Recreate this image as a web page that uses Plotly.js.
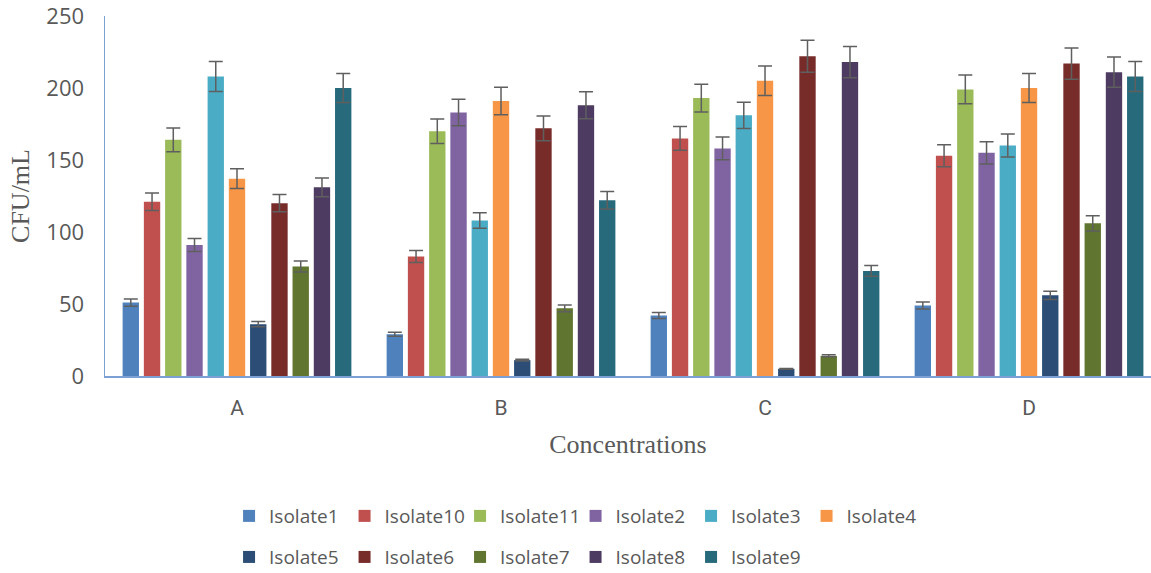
<!DOCTYPE html>
<html>
<head>
<meta charset="utf-8">
<script src="https://cdn.plot.ly/plotly-3.0.1.min.js"></script>
<style>html,body{margin:0;padding:0;background:#fff;}#chart{width:1151px;height:573px;}</style>
</head>
<body>
<div id="chart"></div>
<script>
var categories = ["A", "B", "C", "D"];
var seriesNames = ["Isolate1", "Isolate10", "Isolate11", "Isolate2", "Isolate3", "Isolate4",
                   "Isolate5", "Isolate6", "Isolate7", "Isolate8", "Isolate9"];
var isolate1  = [51, 29, 42, 49];
var isolate10 = [121, 83, 165, 153];
var isolate11 = [164, 170, 193, 199];
var isolate2  = [91, 183, 158, 155];
var isolate3  = [208, 108, 181, 160];
var isolate4  = [137, 191, 205, 200];
var isolate5  = [36, 11, 5, 56];
var isolate6  = [120, 172, 222, 217];
var isolate7  = [76, 47, 14, 106];
var isolate8  = [131, 188, 218, 211];
var isolate9  = [200, 122, 73, 208];
var errorPercent = 5;
var yTicks = [0, 50, 100, 150, 200, 250];

var seriesValues = [isolate1, isolate10, isolate11, isolate2, isolate3, isolate4,
                    isolate5, isolate6, isolate7, isolate8, isolate9];
var colors = ["#4F81BD", "#C0504D", "#9BBB59", "#8064A2", "#4BACC6", "#F79646",
              "#2C4D75", "#772C2A", "#5F7530", "#4D3B62", "#276A7C"];

var traces = seriesNames.map(function (name, i) {
  return {
    type: "bar",
    name: name,
    x: categories,
    y: seriesValues[i],
    marker: { color: colors[i], line: { width: 0 } },
    error_y: { type: "percent", value: errorPercent, visible: true,
               color: "#5f5f5f", thickness: 1.5, width: 7 },
    legend: i < 6 ? "legend" : "legend2"
  };
});

var legendFont = { family: "Open Sans, sans-serif", size: 19, color: "#595959" };
var layout = {
  width: 1151, height: 573,
  margin: { l: 105, r: 0, t: 16, b: 197, autoexpand: false },
  paper_bgcolor: "#ffffff", plot_bgcolor: "#ffffff",
  barmode: "group", bargap: 0.115, bargroupgap: 0.23,
  xaxis: {
    type: "category",
    range: [-0.5, 3.462],
    showline: true, linecolor: "#7c9fd4", linewidth: 1.5,
    ticks: "", showgrid: false, zeroline: false,
    tickfont: { family: "Liberation Sans Narrow, Roboto, sans-serif", size: 21, color: "#595959" },
    ticklabelstandoff: 12,
    title: { text: "Concentrations", standoff: 16,
             font: { family: "Liberation Serif, serif", size: 26, color: "#595959" } }
  },
  yaxis: {
    range: [0, 250],
    tickvals: yTicks,
    ticklabeloverflow: "allow",
    showline: true, linecolor: "#7c9fd4", linewidth: 1.5,
    ticks: "", showgrid: false, zeroline: false,
    tickfont: { family: "Open Sans, sans-serif", size: 22, color: "#595959" },
    ticklabelstandoff: 15,
    title: { text: "CFU/mL", standoff: 9,
             font: { family: "Liberation Serif, serif", size: 26, color: "#595959" } }
  },
  legend: { orientation: "h", x: 0.1186, xanchor: "left", y: -0.389, yanchor: "middle",
            font: legendFont, entrywidth: 70.5, traceorder: "normal", bgcolor: "rgba(0,0,0,0)" },
  legend2: { orientation: "h", x: 0.1186, xanchor: "left", y: -0.503, yanchor: "middle",
             font: legendFont, entrywidth: 70.5, traceorder: "normal", bgcolor: "rgba(0,0,0,0)" },
  showlegend: true
};

Plotly.newPlot("chart", traces, layout, { displayModeBar: false, staticPlot: true });
</script>
</body>
</html>
